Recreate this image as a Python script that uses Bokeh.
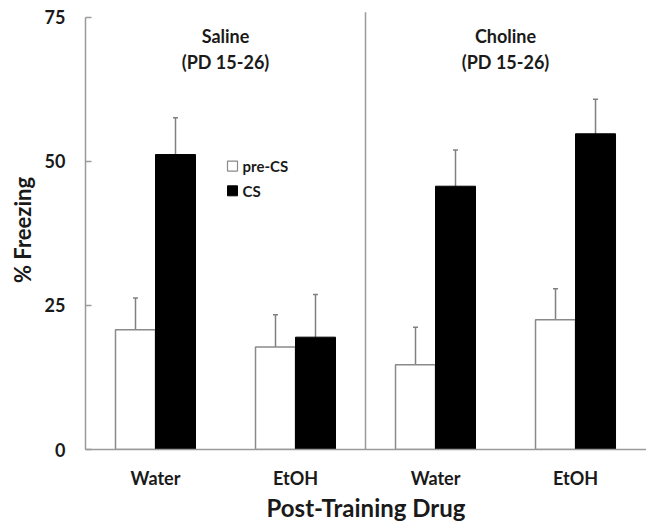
from bokeh.plotting import figure
from bokeh.models import Range1d, FixedTicker, ColumnDataSource, Whisker, TeeHead
from bokeh.core.properties import value
from bokeh.embed import file_html
from bokeh.resources import INLINE

# ---- data ----
groups = ["Saline", "Choline"]
group_sub = ["(PD 15-26)", "(PD 15-26)"]
drugs = ["Water", "EtOH", "Water", "EtOH"]
pre_cs = [20.8, 17.8, 14.7, 22.5]
pre_cs_err = [5.5, 5.6, 6.5, 5.4]
cs = [51.2, 19.5, 45.7, 54.8]
cs_err = [6.4, 7.4, 6.3, 6.0]
y_ticks = [0, 25, 50, 75]
legend_labels = ["pre-CS", "CS"]

FONT = "Lato"
TXT = "#1a1a1a"
GREY = "#9a9a9a"

n = len(drugs)
centers = [i + 0.5 for i in range(n)]
bw = 0.2857
x_pre = [c - bw / 2 for c in centers]
x_cs = [c + bw / 2 for c in centers]

p = figure(width=646, height=525, output_backend="svg", toolbar_location=None,
           x_range=Range1d(0, 4.007), y_range=Range1d(0, 76.2),
           min_border_left=85, min_border_right=0, min_border_top=10, min_border_bottom=76)
p.outline_line_color = None
p.grid.visible = False
p.background_fill_color = "white"

src = ColumnDataSource(dict(x_pre=x_pre, x_cs=x_cs, pre=pre_cs, cs=cs,
                            pre_up=[v + e for v, e in zip(pre_cs, pre_cs_err)],
                            cs_up=[v + e for v, e in zip(cs, cs_err)]))

# error bars (upper only)
for base, up, xs in (("pre", "pre_up", "x_pre"), ("cs", "cs_up", "x_cs")):
    w = Whisker(source=src, base=xs, lower=base, upper=up, dimension="height",
                line_color="#808080", line_width=1.5,
                upper_head=TeeHead(size=5, line_color="#808080", line_width=1.5),
                lower_head=None, level="underlay")
    p.add_layout(w)

p.vbar(x="x_pre", top="pre", width=bw, bottom=0, source=src,
       fill_color="white", line_color="#8a8a8a", line_width=1.5)
p.vbar(x="x_cs", top="cs", width=bw, bottom=0, source=src,
       fill_color="black", line_color="black", line_width=1)

# separator between groups
mid = n / 2
p.segment(x0=[mid], y0=[0], x1=[mid], y1=[75.9], line_color=GREY, line_width=1.5)

# group titles
gx = [1.0, 3.0]
p.text(x=gx, y=[71.7] * 2, text=groups, text_align="center", text_baseline="middle",
       text_font=value(FONT), text_font_style="bold", text_font_size="18px", text_color=TXT)
p.text(x=gx, y=[67.3] * 2, text=group_sub, text_align="center", text_baseline="middle",
       text_font=value(FONT), text_font_style="bold", text_font_size="18px", text_color=TXT)

# legend (manual)
lx = 1.05
ly = [49.2, 44.9]
p.scatter(x=[lx], y=[ly[0]], marker="square", size=10, fill_color="white",
          line_color="#8a8a8a", line_width=1.2)
p.scatter(x=[lx], y=[ly[1]], marker="square", size=10, fill_color="black",
          line_color="black")
p.text(x=[lx + 0.072] * 2, y=ly, text=legend_labels, text_align="left", text_baseline="middle",
       text_font=value(FONT), text_font_style="bold", text_font_size="15px", text_color=TXT)

# axes
xa = p.xaxis[0]
xa.ticker = FixedTicker(ticks=centers)
xa.major_label_overrides = {c: d for c, d in zip(centers, drugs)}
xa.major_tick_line_color = None
xa.minor_tick_line_color = None
xa.major_tick_out = 0
xa.major_label_standoff = 17
xa.axis_line_color = GREY
xa.axis_line_width = 1.5
xa.major_label_text_font = FONT
xa.major_label_text_font_style = "bold"
xa.major_label_text_font_size = "18px"
xa.major_label_text_color = TXT
xa.axis_label = "Post-Training Drug"
xa.axis_label_text_font = FONT
xa.axis_label_text_font_style = "bold"
xa.axis_label_text_font_size = "24px"
xa.axis_label_text_color = TXT
xa.axis_label_standoff = 1

ya = p.yaxis[0]
ya.ticker = FixedTicker(ticks=y_ticks)
ya.bounds = (0, 75)
ya.minor_tick_line_color = None
ya.major_tick_in = 6
ya.major_tick_out = 0
ya.major_tick_line_color = GREY
ya.major_tick_line_width = 1.5
ya.axis_line_color = GREY
ya.axis_line_width = 1.5
ya.major_label_standoff = 20
ya.major_label_text_font = FONT
ya.major_label_text_font_style = "bold"
ya.major_label_text_font_size = "18px"
ya.major_label_text_color = TXT
ya.axis_label = "% Freezing"
ya.axis_label_text_font = FONT
ya.axis_label_text_font_style = "bold"
ya.axis_label_text_font_size = "22px"
ya.axis_label_text_color = TXT
ya.axis_label_standoff = 6

open("out.html", "w").write(file_html(p, INLINE))
